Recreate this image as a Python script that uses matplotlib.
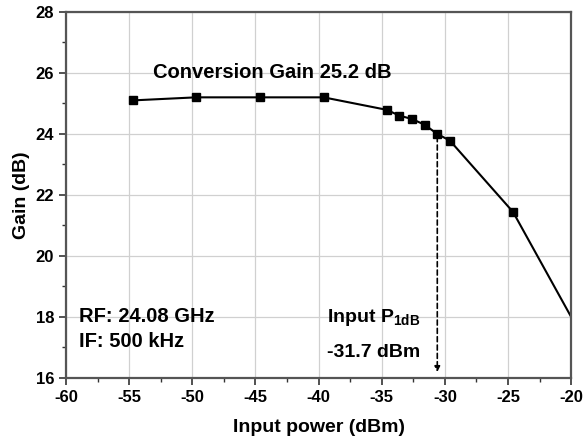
import matplotlib.pyplot as plt
from matplotlib.ticker import MultipleLocator

plt.rcParams['font.family'] = ['Liberation Sans', 'DejaVu Sans']
plt.rcParams['font.weight'] = 'bold'
plt.rcParams['axes.unicode_minus'] = False
plt.rcParams['mathtext.fontset'] = 'custom'
plt.rcParams['mathtext.bf'] = 'Liberation Sans:bold'

# measured gain curve
pin = [-54.7, -49.7, -44.6, -39.6, -34.6, -33.6, -32.6, -31.6, -30.6, -29.6, -24.6, -19.6]
gain = [25.1, 25.2, 25.2, 25.2, 24.79, 24.6, 24.49, 24.3, 24.0, 23.78, 21.44, 17.7]
p1db_x = -30.6
p1db_y = 24.0

fig = plt.figure(figsize=(5.84, 4.43), dpi=100)
ax = fig.add_axes([0.113, 0.147, 0.865, 0.826])

ax.plot(pin, gain, color='black', lw=1.5, marker='s', markersize=6,
        markerfacecolor='black', markeredgecolor='black')

ax.annotate('', xy=(p1db_x, 16.1), xytext=(p1db_x, p1db_y),
            arrowprops=dict(arrowstyle='-|>', color='black', lw=1.2,
                            linestyle=(0, (3, 2)), mutation_scale=8))

ax.text(-53.1, 25.85, 'Conversion Gain 25.2 dB', fontsize=14.5, fontweight='bold')
ax.text(-59.0, 17.84, 'RF: 24.08 GHz', fontsize=14.5, fontweight='bold')
ax.text(-59.0, 17.02, 'IF: 500 kHz', fontsize=14.5, fontweight='bold')
ax.text(-39.3, 17.82, 'Input P$_{\\mathbf{1dB}}$', fontsize=14, fontweight='bold')
ax.text(-39.3, 16.69, '-31.7 dBm', fontsize=14, fontweight='bold')

ax.set_xlim(-60, -20)
ax.set_ylim(16, 28)
ax.xaxis.set_major_locator(MultipleLocator(5))
ax.xaxis.set_minor_locator(MultipleLocator(2.5))
ax.yaxis.set_major_locator(MultipleLocator(2))
ax.yaxis.set_minor_locator(MultipleLocator(1))
ax.grid(True, which='major', color='#d0d0d0', lw=0.9)
ax.set_axisbelow(True)

ax.tick_params(which='both', direction='out', top=False, right=False,
               color='#333333', labelsize=12)
ax.tick_params(which='major', length=5, width=1.2)
ax.tick_params(which='minor', length=3, width=1.0)
for lab in ax.get_xticklabels() + ax.get_yticklabels():
    lab.set_fontweight('bold')
for s in ax.spines.values():
    s.set_linewidth(1.6)
    s.set_color('#555555')

ax.set_xlabel('Input power (dBm)', fontsize=14, fontweight='bold', labelpad=10)
ax.set_ylabel('Gain (dB)', fontsize=14, fontweight='bold', labelpad=4)

fig.savefig('out.png', dpi=100)
